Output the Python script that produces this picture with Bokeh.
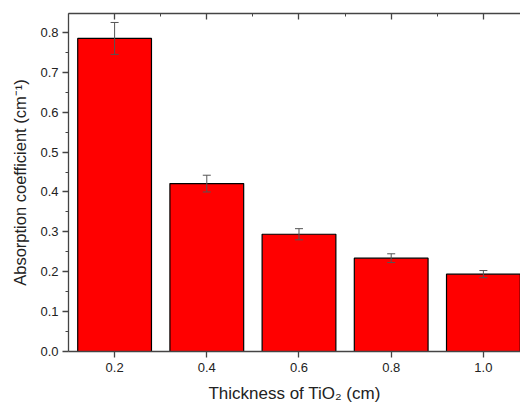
from bokeh.plotting import figure
from bokeh.models import (ColumnDataSource, Whisker, LinearAxis, FixedTicker,
                          PrintfTickFormatter, Range1d)
from bokeh.embed import file_html
from bokeh.resources import INLINE

thickness = [0.2, 0.4, 0.6, 0.8, 1.0]
absorption = [0.785, 0.421, 0.294, 0.234, 0.194]
error = [0.040, 0.021, 0.014, 0.011, 0.009]
x_ticks = [0.2, 0.4, 0.6, 0.8, 1.0]
y_ticks = [0.0, 0.1, 0.2, 0.3, 0.4, 0.5, 0.6, 0.7, 0.8]

upper = [a + e for a, e in zip(absorption, error)]
lower = [a - e for a, e in zip(absorption, error)]
src = ColumnDataSource(dict(x=thickness, y=absorption, upper=upper, lower=lower))

p = figure(width=520, height=405, output_backend="svg", toolbar_location=None,
           x_range=Range1d(0.1, 1.0805), y_range=Range1d(0, 0.8475),
           min_border_left=68, min_border_right=0, min_border_top=13,
           min_border_bottom=52)
p.outline_line_color = None
p.grid.visible = False
p.background_fill_color = "white"
p.border_fill_color = "white"

p.vbar(x="x", top="y", width=0.16, bottom=0, source=src,
       fill_color="#FF0000", line_color="black", line_width=1.2)
w = Whisker(base="x", upper="upper", lower="lower", source=src,
            line_color="#555555", line_width=1, level="overlay")
w.upper_head.size = 8
w.lower_head.size = 8
w.upper_head.line_color = "#555555"
w.lower_head.line_color = "#555555"
p.add_layout(w)

axcol = "#444444"
font = "Liberation Sans"

xa = p.xaxis[0]
xa.ticker = FixedTicker(ticks=x_ticks, minor_ticks=[])
xa.formatter = PrintfTickFormatter(format="%.1f")
xa.axis_label = "Thickness of TiO\u2082 (cm)"
xa.major_tick_out = 6
xa.major_tick_in = 0
xa.minor_tick_out = 0
xa.minor_tick_in = 0
xa.major_label_standoff = 5
xa.axis_label_standoff = 9

ya = p.yaxis[0]
ya.ticker = FixedTicker(ticks=y_ticks,
                        minor_ticks=[0.05 + 0.1 * i for i in range(8)])
ya.formatter = PrintfTickFormatter(format="%.1f")
ya.axis_label = "Absorption coefficient (cm\u207B\u00B9)"
ya.major_tick_out = 6
ya.major_tick_in = 0
ya.minor_tick_out = 3
ya.minor_tick_in = 0
ya.major_label_standoff = 4
ya.axis_label_standoff = 8

top = LinearAxis(ticker=FixedTicker(ticks=x_ticks,
                                    minor_ticks=[0.1, 0.3, 0.5, 0.7, 0.9, 1.1]),
                 major_label_text_font_size="0px", major_label_text_color=None)
top.major_tick_in = 6
top.major_tick_out = 0
top.minor_tick_in = 3
top.minor_tick_out = 0
top.major_label_standoff = 0
p.add_layout(top, "above")

for ax in (xa, ya, top):
    ax.axis_line_color = axcol
    ax.axis_line_width = 1.3
    ax.major_tick_line_color = axcol
    ax.minor_tick_line_color = axcol
    ax.major_tick_line_width = 1.3
    ax.minor_tick_line_width = 1
for ax in (xa, ya):
    ax.major_label_text_font = font
    ax.major_label_text_font_size = "13px"
    ax.major_label_text_color = "#222222"
    ax.axis_label_text_font = font
    ax.axis_label_text_font_style = "normal"
    ax.axis_label_text_color = "#222222"
xa.axis_label_text_font_size = "17px"
ya.axis_label_text_font_size = "16.5px"

open("out.html", "w").write(file_html(p, INLINE))
